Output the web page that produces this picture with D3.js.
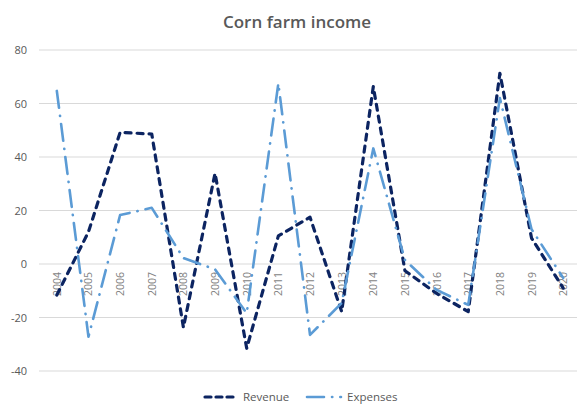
<!DOCTYPE html>
<html>
<head>
<meta charset="utf-8">
<script src="https://cdn.jsdelivr.net/npm/d3@7"></script>
<style>
  html, body { margin: 0; padding: 0; background: #fff; }
  svg { display: block; }
</style>
</head>
<body>
<div id="chart"></div>
<script>
const years = ["2004","2005","2006","2007","2008","2009","2010","2011","2012","2013","2014","2015","2016","2017","2018","2019","2020"];
const revenue = [-11.6, 12, 49.2, 48.6, -23.7, 33.9, -31.5, 10.5, 17.5, -17.8, 66.3, -2.5, -11, -17.8, 71.3, 9.7, -9];
const expenses = [64.7, -27.2, 18.3, 21, 2.2, -2, -18.4, 67.5, -26.5, -14.6, 43.2, 1.5, -9.7, -15.3, 62, 13, -5.2];
const yTicks = [-40, -20, 0, 20, 40, 60, 80];
const seriesNames = ["Revenue", "Expenses"];
const seriesColors = ["#0c2461", "#5b9bd5"];

const W = 577, H = 404;
const svg = d3.select("#chart").append("svg").attr("width", W).attr("height", H);
const font = "'Open Sans', 'Lato', sans-serif";

const x = d3.scalePoint().domain(years).range([41, 579]).padding(0.5);
const y = d3.scaleLinear().domain([-40, 80]).range([371, 50]);

// gridlines
svg.append("g").selectAll("line").data(yTicks).join("line")
  .attr("x1", 39).attr("x2", 577)
  .attr("y1", d => y(d)).attr("y2", d => y(d))
  .attr("stroke", "#d9d9d9").attr("stroke-width", 1);

// y labels
svg.append("g").selectAll("text").data(yTicks).join("text")
  .attr("x", 27).attr("y", d => y(d) + 4)
  .attr("text-anchor", "end")
  .attr("font-family", font).attr("font-size", 11)
  .attr("fill", "#595959")
  .text(d => d);

// x labels rotated
svg.append("g").selectAll("text").data(years).join("text")
  .attr("transform", d => `translate(${x(d) + 4},${y(0) + 8}) rotate(-90)`)
  .attr("text-anchor", "end")
  .attr("font-family", font).attr("font-size", 10.5)
  .attr("fill", "#7f7f7f")
  .text(d => d);

const line = d3.line().x((d, i) => x(years[i])).y(d => y(d));

svg.append("path").datum(revenue)
  .attr("d", line).attr("fill", "none")
  .attr("stroke", seriesColors[0]).attr("stroke-width", 3.2)
  .attr("stroke-linecap", "round").attr("stroke-linejoin", "round")
  .attr("stroke-dasharray", "6,6");

svg.append("path").datum(expenses)
  .attr("d", line).attr("fill", "none")
  .attr("stroke", seriesColors[1]).attr("stroke-width", 2.6)
  .attr("stroke-linecap", "round").attr("stroke-linejoin", "round")
  .attr("stroke-dasharray", "17,8,0.3,8");

// title
svg.append("text")
  .attr("x", 297).attr("y", 28)
  .attr("text-anchor", "middle")
  .attr("font-family", font).attr("font-size", 17).attr("font-weight", 600)
  .attr("fill", "#595959")
  .text("Corn farm income");

// legend
const lg = svg.append("g");
lg.append("line").attr("x1", 205).attr("x2", 234).attr("y1", 397).attr("y2", 397)
  .attr("stroke", seriesColors[0]).attr("stroke-width", 3.2)
  .attr("stroke-linecap", "round").attr("stroke-dasharray", "6,5");
lg.append("text").attr("x", 243).attr("y", 401)
  .attr("font-family", font).attr("font-size", 11.5).attr("fill", "#595959")
  .text(seriesNames[0]);
lg.append("line").attr("x1", 307).attr("x2", 341).attr("y1", 397).attr("y2", 397)
  .attr("stroke", seriesColors[1]).attr("stroke-width", 2.6)
  .attr("stroke-linecap", "round").attr("stroke-dasharray", "17,8,0.3,8");
lg.append("text").attr("x", 347).attr("y", 401)
  .attr("font-family", font).attr("font-size", 11.5).attr("fill", "#595959")
  .text(seriesNames[1]);
</script>
</body>
</html>
